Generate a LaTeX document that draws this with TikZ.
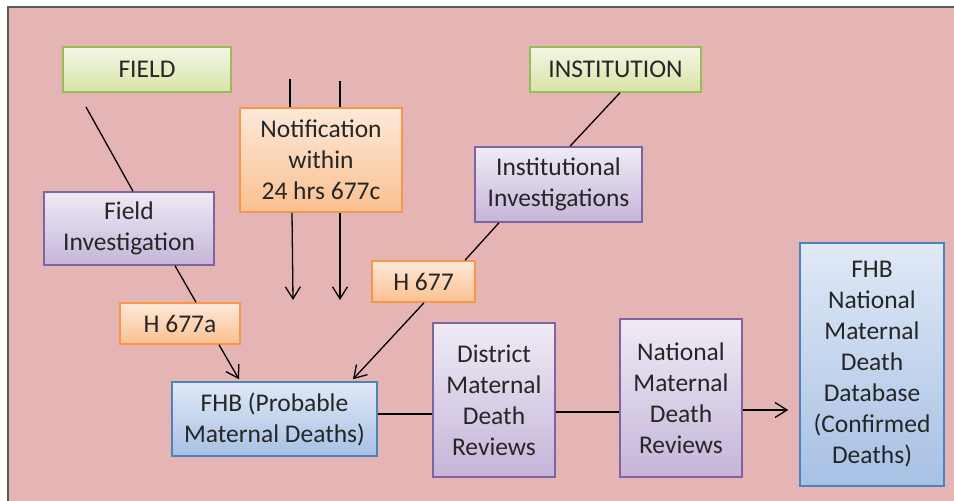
\documentclass[tikz,border=0pt]{standalone}
\usepackage{fontspec}
\setmainfont{Carlito}
\usepackage{tikz}
\usetikzlibrary{arrows.meta}
\usetikzlibrary{positioning,calc}
\definecolor{bgpink}{HTML}{E5B5B6}
\definecolor{framegrey}{HTML}{5A5A5A}
\definecolor{textgrey}{HTML}{262626}
\definecolor{greenline}{HTML}{9BBB59}
\definecolor{greentop}{HTML}{F2F6E4}
\definecolor{greenbot}{HTML}{D7E4A8}
\definecolor{orangeline}{HTML}{F79646}
\definecolor{orangetop}{HTML}{FDE9D9}
\definecolor{orangebot}{HTML}{FAC090}
\definecolor{purpleline}{HTML}{8064A2}
\definecolor{purpletop}{HTML}{EFEBF5}
\definecolor{purplebot}{HTML}{C5B5D9}
\definecolor{blueline}{HTML}{4F81BD}
\definecolor{bluetop}{HTML}{E0E9F6}
\definecolor{bluebot}{HTML}{A7C0E4}
\tikzset{
        % boxes
        box/.style={draw,line width=1.5pt,align=center,inner sep=0pt,
          text=textgrey,font=\fontsize{25.5}{31}\selectfont},
        greenbox/.style={box,draw=greenline,top color=greentop,bottom color=greenbot},
        orangebox/.style={box,draw=orangeline,top color=orangetop,bottom color=orangebot},
        purplebox/.style={box,draw=purpleline,top color=purpletop,bottom color=purplebot},
        bluebox/.style={box,draw=blueline,top color=bluetop,bottom color=bluebot},
        % connectors
        link/.style={line width=1.3pt,black},
        arrow/.style={link,-{Straight Barb[length=12pt,width=15pt]}}
    }
\begin{document}
\begin{tikzpicture}[x=1pt,y=-1pt]
			\useasboundingbox (0,0) rectangle (954,501);
			\fill[white] (0,0) rectangle (954,501);
			\fill[bgpink] (8,7) rectangle (954,501);
			\draw[framegrey,line width=1.6pt] (8,501) -- (8,7) -- (954,7);
			% top row
			\node[greenbox,minimum width=168pt,minimum height=45pt] (field) at (147,69.5) {FIELD};
			\node[greenbox,minimum width=171pt,minimum height=45pt] (inst) at (615.5,69.5) {INSTITUTION};
			\node[orangebox,minimum width=162pt,minimum height=104pt] (notif) at (321,160) {Notification\\within\\24 hrs 677c};
			\node[purplebox,minimum width=170pt,minimum height=73pt] (fieldinv) at (129,228.5) {Field\\Investigation};
			\node[purplebox,minimum width=167pt,minimum height=75pt] (instinv) at (558.5,184.5) {Institutional\\Investigations};
			\node[orangebox,minimum width=103pt,minimum height=41pt] (hsix) at (423.5,281.5) {H 677};
			\node[orangebox,minimum width=120pt,minimum height=41pt] (hsixa) at (180,323.5) {H 677a};
			% bottom row
			\node[bluebox,minimum width=205pt,minimum height=74pt] (fhbprob) at (274.5,419) {FHB (Probable\\Maternal Deaths)};
			\node[purplebox,minimum width=122pt,minimum height=154pt] (district) at (494,400) {District\\Maternal\\Death\\Reviews};
			\node[purplebox,minimum width=122pt,minimum height=158pt] (national) at (681,398) {National\\Maternal\\Death\\Reviews};
			\node[bluebox,minimum width=144pt,minimum height=243pt] (fhbdb) at (872,364.5) {FHB\\National\\Maternal\\Death\\Database\\(Confirmed\\Deaths)};
			% free ends
			\coordinate (fieldend) at (86,107);
			\coordinate (notifinl) at (290,79);
			\coordinate (notifinr) at (340,81);
			\coordinate (notifoutl) at (293,300);
			\coordinate (notifoutr) at (340,300);
			% connectors
			\draw[link] (fieldend) -- ([xshift=4pt]fieldinv.north);
			\draw[link] ([xshift=46pt]fieldinv.south) -- ([xshift=16pt]hsixa.north);
			\draw[arrow] ([xshift=39pt]hsixa.south) -- ([xshift=-35.5pt,yshift=2pt]fhbprob.north);
			\draw[link] (notifinl) -- ([xshift=-31pt]notif.north);
			\draw[link] (notifinr) -- ([xshift=19pt]notif.north);
			\draw[arrow] ([xshift=-29pt]notif.south) -- (notifoutl);
			\draw[arrow] ([xshift=19pt]notif.south) -- (notifoutr);
			\draw[link] ([xshift=4.5pt]inst.south) -- ([xshift=11.5pt]instinv.north);
			\draw[link] ([xshift=-59.5pt]instinv.south) -- ([xshift=41.5pt]hsix.north);
			\draw[arrow] ([xshift=0.5pt]hsix.south) -- ([xshift=78.5pt,yshift=2pt]fhbprob.north);
			\draw[link] ([yshift=5pt]fhbprob.east) -- ([yshift=-14pt]district.west);
			\draw[link] ([yshift=-12pt]district.east) -- ([yshift=-14pt]national.west);
			\draw[arrow,shorten >=11pt] ([yshift=-12pt]national.east) -- ([yshift=-45.5pt]fhbdb.west);
		\end{tikzpicture}
\end{document}
